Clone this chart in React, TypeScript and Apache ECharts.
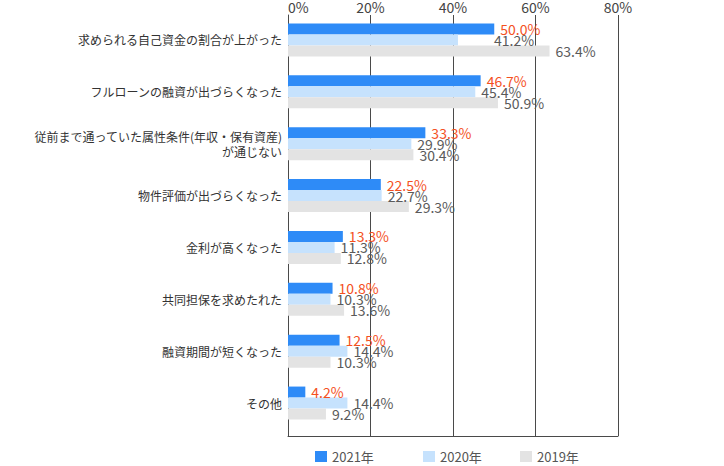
import React, { useEffect, useRef } from "react";
import * as echarts from "echarts";

const categories = [
  "求められる自己資金の割合が上がった",
  "フルローンの融資が出づらくなった",
  "従前まで通っていた属性条件(年収・保有資産)\nが通じない",
  "物件評価が出づらくなった",
  "金利が高くなった",
  "共同担保を求めたれた",
  "融資期間が短くなった",
  "その他",
];
const values2021 = [50.0, 46.7, 33.3, 22.5, 13.3, 10.8, 12.5, 4.2];
const values2020 = [41.2, 45.4, 29.9, 22.7, 11.3, 10.3, 14.4, 14.4];
const values2019 = [63.4, 50.9, 30.4, 29.3, 12.8, 13.6, 10.3, 9.2];
const seriesNames = ["2021年", "2020年", "2019年"];
const xMin = 0;
const xMax = 80;
const xInterval = 20;

const FONT = "'Noto Sans CJK JP', 'Noto Sans', sans-serif";
const colors = ["#2E8BF7", "#C6E2FD", "#E3E3E3"];
const labelColors = ["#F4511E", "#5A5A5A", "#5A5A5A"];
const lineColor = "#4A4A4A";

export default function App() {
  const ref = useRef<HTMLDivElement>(null);
  useEffect(() => {
    document.body.style.margin = "0";
    if (!ref.current) return;
    const chart = echarts.init(ref.current, null, { renderer: "svg" });
    const gridBox = { left: 288, right: 106, top: 14 };
    const allValues = [values2021, values2020, values2019];
    const series = allValues.map((vals, si) => ({
      name: seriesNames[si],
      type: "bar",
      xAxisIndex: 0,
      yAxisIndex: 0,
      barWidth: 11,
      barGap: "0%",
      itemStyle: { color: colors[si] },
      label: {
        show: true,
        position: "right",
        distance: 6,
        color: labelColors[si],
        fontSize: 14,
        fontFamily: FONT,
        formatter: (p: any) => Number(p.value).toFixed(1) + "%",
      },
      data: vals.map((v, i) =>
        si === 1 && i === 0 ? { value: v, label: { offset: [30, 0] } } : v
      ),
    }));
    const option: any = {
      animation: false,
      textStyle: { fontFamily: FONT },
      grid: [
        { ...gridBox, height: 415 },
        { ...gridBox, height: 422 },
      ],
      legend: seriesNames.map((n, i) => ({
        data: [n],
        left: [310, 418, 515][i],
        top: 445,
        itemWidth: 12,
        itemHeight: 11,
        itemGap: 6,
        icon: "rect",
        textStyle: { color: "#555", fontSize: 13, fontFamily: FONT },
      })),
      xAxis: [
        {
          type: "value",
          gridIndex: 0,
          min: xMin,
          max: xMax,
          interval: xInterval,
          show: false,
        },
        {
          type: "value",
          gridIndex: 1,
          position: "top",
          min: xMin,
          max: xMax,
          interval: xInterval,
          axisLine: { show: false },
          axisTick: { show: false },
          axisLabel: {
            formatter: "{value}%",
            color: "#444",
            fontSize: 14,
            lineHeight: 14,
            fontFamily: FONT,
            margin: 1,
            alignMinLabel: "left",
          },
          splitLine: { show: true, lineStyle: { color: lineColor, width: 1 } },
        },
        {
          type: "value",
          gridIndex: 1,
          position: "bottom",
          min: xMin,
          max: xMax,
          interval: xInterval,
          axisLine: { show: true, lineStyle: { color: lineColor, width: 1 } },
          axisTick: { show: false },
          axisLabel: { show: false },
          splitLine: { show: false },
        },
      ],
      yAxis: [
        {
          type: "category",
          gridIndex: 0,
          data: categories,
          inverse: true,
          axisLine: { show: false },
          axisTick: { show: false },
          splitLine: { show: false },
          axisLabel: {
            color: "#333",
            fontSize: 12,
            lineHeight: 15,
            margin: 6,
            fontFamily: FONT,
            align: "right",
          },
        },
        {
          type: "value",
          gridIndex: 1,
          min: 0,
          max: 1,
          axisLine: { show: true, lineStyle: { color: lineColor, width: 1 } },
          axisTick: { show: false },
          axisLabel: { show: false },
          splitLine: { show: false },
        },
      ],
      series,
    };
    chart.setOption(option);
    return () => chart.dispose();
  }, []);
  return <div ref={ref} style={{ width: 724, height: 466 }} />;
}
